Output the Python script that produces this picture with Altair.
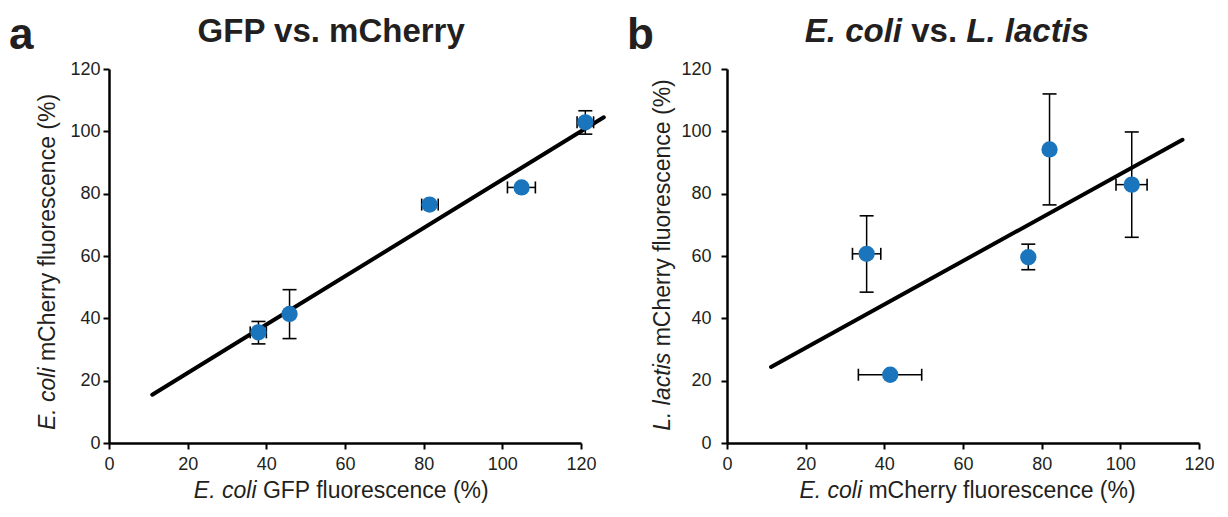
import altair as alt
import pandas as pd

FONT = "Liberation Sans, Arial, Helvetica, sans-serif"
INK = "#231f20"
BLUE = "#1a75bc"

# ---------------- data: panel a (GFP vs. mCherry) ----------------
a_x = [38.0, 45.9, 81.5, 104.9, 121.1]
a_y = [35.5, 41.4, 76.5, 82.0, 102.9]
a_x_lo = [35.9, None, 79.5, 101.3, 119.0]
a_x_hi = [40.0, None, 83.7, 108.4, 123.2]
a_y_lo = [31.8, 33.5, None, None, 99.1]
a_y_hi = [39.0, 49.2, None, None, 106.6]
a_fit_x = [11.0, 125.8]
a_fit_y = [15.5, 104.5]

# ---------------- data: panel b (E. coli vs. L. lactis) ----------------
b_x = [35.5, 41.5, 76.6, 82.0, 102.9]
b_y = [60.7, 21.9, 59.6, 94.2, 82.9]
b_x_lo = [31.9, 33.4, None, None, 98.9]
b_x_hi = [39.1, 49.5, None, None, 106.8]
b_y_lo = [48.4, None, 55.6, 76.4, 66.0]
b_y_hi = [72.9, None, 63.8, 112.0, 99.8]
b_fit_x = [11.2, 115.8]
b_fit_y = [24.4, 97.3]

tick_values = [0, 20, 40, 60, 80, 100, 120]

W, H = 472, 374

# approximate Arial advance widths (per 1000 em) for text layout
REG = {" ": 278, "(": 333, ")": 333, "%": 889, ".": 278, "E": 667, "G": 778, "F": 611,
       "P": 667, "C": 722, "L": 556, "a": 556, "c": 500, "e": 556, "f": 278, "h": 556,
       "i": 222, "l": 222, "m": 833, "n": 556, "o": 556, "r": 333, "s": 500, "t": 278,
       "u": 556, "y": 500, "v": 500}
BOLD = {" ": 278, ".": 278, "E": 667, "G": 778, "F": 611, "P": 667, "C": 722, "L": 611,
        "a": 556, "c": 556, "e": 556, "h": 611, "i": 278, "l": 278, "m": 889, "o": 611,
        "r": 389, "s": 556, "t": 333, "v": 556, "y": 556}


def tw(s, size, bold=False):
    tab = BOLD if bold else REG
    return sum(tab.get(c, 556) for c in s) / 1000.0 * size


def txt(s, px, py, size, bold=False, italic=False, align="left", angle=0,
        baseline="alphabetic"):
    kw = dict(text=s, font=FONT, fontSize=size, color=INK, align=align,
              baseline=baseline, fontWeight="bold" if bold else "normal",
              fontStyle="italic" if italic else "normal")
    if angle:
        kw["angle"] = angle
    return alt.Chart(pd.DataFrame({"t": [s]})).mark_text(**kw).encode(
        x=alt.value(px), y=alt.value(py))


def mixed_h(parts, cx, y, size, bold=False):
    """parts: list of (text, italic); laid out horizontally centred at cx."""
    sp = tw(" ", size, bold)
    widths = [tw(t, size, bold) for t, _ in parts]
    total = sum(widths) + sp * (len(parts) - 1)
    x = cx - total / 2
    layers = []
    for (t, it), w in zip(parts, widths):
        layers.append(txt(t, x, y, size, bold=bold, italic=it, align="left"))
        x += w + sp
    return layers


def mixed_v(parts, x, cy, size):
    """vertical (rotated 270) text centred at cy, reading bottom to top."""
    sp = tw(" ", size)
    widths = [tw(t, size) for t, _ in parts]
    total = sum(widths) + sp * (len(parts) - 1)
    y = cy + total / 2
    layers = []
    for (t, it), w in zip(parts, widths):
        layers.append(txt(t, x, y, size, italic=it, align="left", angle=270,
                          baseline="middle"))
        y -= w + sp
    return layers


def panel(xs_, ys_, xlo, xhi, ylo, yhi, fx, fy, letter, title_parts, title_cx,
          xt_parts, xt_cx, yt_parts, yt_x, yt_cy, ylab_pad):
    df = pd.DataFrame(dict(x=xs_, y=ys_, xlo=xlo, xhi=xhi, ylo=ylo, yhi=yhi))
    dfy = df.dropna(subset=["ylo"])
    dfx = df.dropna(subset=["xlo"])
    fit = pd.DataFrame(dict(x=fx, y=fy))

    xsc = alt.Scale(domain=[0, 120], nice=False, zero=False)
    ysc = alt.Scale(domain=[0, 120], nice=False, zero=False)
    xax = alt.Axis(values=tick_values, title=None, labelPadding=6, labelFlush=False)
    yax = alt.Axis(values=tick_values, title=None, labelPadding=ylab_pad, labelFlush=False)

    def X(f):
        return alt.X(f + ":Q", scale=xsc, axis=xax)

    def Y(f):
        return alt.Y(f + ":Q", scale=ysc, axis=yax)

    line = alt.Chart(fit).mark_line(color="black", strokeWidth=4, strokeCap="round").encode(
        x=X("x"), y=Y("y"))
    yrule = alt.Chart(dfy).mark_rule(color="black", strokeWidth=1.5).encode(
        x=X("x"), y=Y("ylo"), y2="yhi:Q")
    ycap1 = alt.Chart(dfy).mark_tick(orient="horizontal", size=14, thickness=1.6,
                                     color="black", opacity=1).encode(x=X("x"), y=Y("ylo"))
    ycap2 = alt.Chart(dfy).mark_tick(orient="horizontal", size=14, thickness=1.6,
                                     color="black", opacity=1).encode(x=X("x"), y=Y("yhi"))
    xrule = alt.Chart(dfx).mark_rule(color="black", strokeWidth=1.5).encode(
        x=X("xlo"), x2="xhi:Q", y=Y("y"))
    xcap1 = alt.Chart(dfx).mark_tick(orient="vertical", size=12, thickness=1.6,
                                     color="black", opacity=1).encode(x=X("xlo"), y=Y("y"))
    xcap2 = alt.Chart(dfx).mark_tick(orient="vertical", size=12, thickness=1.6,
                                     color="black", opacity=1).encode(x=X("xhi"), y=Y("y"))
    pts = alt.Chart(df).mark_circle(size=265, color=BLUE, opacity=1).encode(
        x=X("x"), y=Y("y"))

    layers = [line, yrule, ycap1, ycap2, xrule, xcap1, xcap2, pts]
    layers.append(txt(letter, -100, -20, 44, bold=True))
    layers += mixed_h(title_parts, title_cx, -27, 33, bold=True)
    layers += mixed_h(xt_parts, xt_cx, H + 55, 23)
    layers += mixed_v(yt_parts, yt_x, yt_cy, 23)
    return alt.layer(*layers).properties(width=W, height=H)


pa = panel(a_x, a_y, a_x_lo, a_x_hi, a_y_lo, a_y_hi, a_fit_x, a_fit_y, "a",
           [("GFP vs. mCherry", False)], 222.5,
           [("E. coli", True), ("GFP fluorescence (%)", False)], 232.5,
           [("E. coli", True), ("mCherry fluorescence (%)", False)], -61, 193, 3)

pb = panel(b_x, b_y, b_x_lo, b_x_hi, b_y_lo, b_y_hi, b_fit_x, b_fit_y, "b",
           [("E. coli", True), ("vs.", False), ("L. lactis", True)], 220,
           [("E. coli", True), ("mCherry fluorescence (%)", False)], 240.5,
           [("L. lactis", True), ("mCherry fluorescence (%)", False)], -64, 186, 10)

chart = alt.hconcat(pa, pb, spacing=146, bounds="flush").properties(
    padding={"left": 1, "top": 6, "right": 0, "bottom": 0}
).configure_view(stroke=None).configure_axis(
    grid=False, domainColor="black", domainWidth=2.5, tickColor="black",
    tickWidth=2, tickSize=6, labelFont=FONT, labelFontSize=18, labelColor=INK
)

chart.save("out.html", embed_options={"renderer": "svg", "actions": False})
